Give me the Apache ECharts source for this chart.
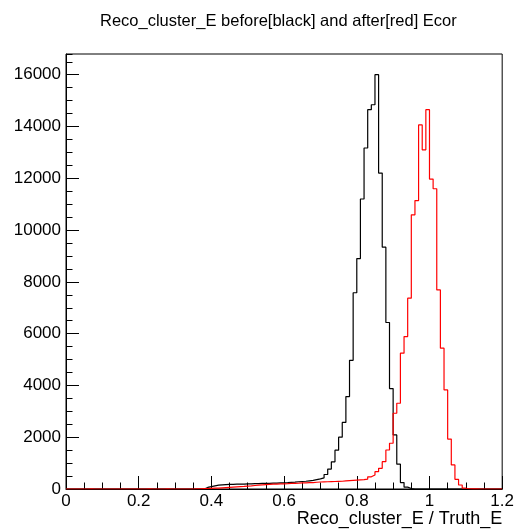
<!DOCTYPE html>
<html>
<head>
<meta charset="utf-8">
<title>Reco_cluster_E before and after Ecor</title>
<script src="https://cdn.jsdelivr.net/npm/echarts@6/dist/echarts.min.js"></script>
<style>
  html, body { margin: 0; padding: 0; background: #fff; }
  #chart { width: 517px; height: 530px; }
</style>
</head>
<body>
<div id="chart"></div>
<script>
// Histogram binning: 120 bins of width 0.01 over [0, 1.2]
const binStart = 0;
const binWidth = 0.01;
const nBins = 120;

// Counts per bin before the energy correction (black)
const beforeCounts = [
  0, 0, 0, 0, 0, 0, 0, 0, 0, 0,
  0, 0, 0, 0, 0, 0, 0, 0, 0, 0,
  0, 0, 0, 0, 0, 0, 0, 0, 0, 0,
  0, 0, 0, 0, 0, 0, 0, 0, 60, 90,
  120, 150, 160, 170, 175, 180, 185, 190, 190, 200,
  195, 205, 210, 215, 220, 220, 225, 230, 235, 240,
  245, 255, 265, 280, 290, 300, 315, 330, 360, 390,
  430, 560, 770, 1050, 1500, 2000, 2570, 3570, 4970, 7580,
  8900, 11200, 13170, 14650, 14840, 16000, 12200, 9340, 6430, 3880,
  2090, 960, 250, 70, 20, 0, 0, 0, 0, 0,
  0, 0, 0, 0, 0, 0, 0, 0, 0, 0,
  0, 0, 0, 0, 0, 0, 0, 0, 0, 0
];

// Counts per bin after the energy correction (red)
const afterCounts = [
  0, 0, 0, 0, 0, 0, 10, 0, 0, 0,
  0, 0, 0, 0, 0, 0, 0, 0, 0, 0,
  0, 0, 10, 0, 0, 0, 0, 10, 0, 0,
  0, 0, 0, 0, 0, 10, 10, 15, 20, 25,
  30, 35, 45, 55, 65, 75, 85, 95, 100, 110,
  120, 135, 150, 160, 170, 180, 185, 190, 195, 200,
  205, 215, 220, 225, 235, 240, 245, 250, 260, 270,
  275, 280, 285, 290, 295, 300, 310, 320, 330, 340,
  350, 360, 380, 470, 540, 670, 800, 1055, 1507, 1766,
  2926, 3312, 5245, 5886, 7370, 10590, 11140, 14060, 13100, 14650,
  11970, 11595, 7690, 5438, 3826, 1930, 928, 375, 155, 30,
  10, 5, 5, 0, 0, 0, 0, 0, 0, 0
];

// Axis tick labels
const xTickLabels = ['0', '0.2', '0.4', '0.6', '0.8', '1', '1.2'];
const yTickLabels = ['0', '2000', '4000', '6000', '8000', '10000', '12000', '14000', '16000'];

// Build step-line points at bin lower edges, closing at the last upper edge
function histPoints(counts) {
  const pts = counts.map((c, i) => [+(binStart + i * binWidth).toFixed(4), c]);
  pts.push([+(binStart + nBins * binWidth).toFixed(4), counts[counts.length - 1]]);
  return pts;
}

const FONT = 'Liberation Sans, Helvetica, Arial, sans-serif';
const chart = echarts.init(document.getElementById('chart'), null, { renderer: 'canvas' });

const xMax = 1.2, yMax = 16800;

chart.setOption({
  animation: false,
  backgroundColor: '#fff',
  title: {
    text: 'Reco_cluster_E before[black] and after[red] Ecor',
    left: 95,
    top: 8,
    textStyle: { fontFamily: FONT, fontSize: 16.5, fontWeight: 'normal', color: '#000' }
  },
  grid: {
    left: 66, right: 13, top: 54, bottom: 41,
    show: true, borderColor: '#000', borderWidth: 1, backgroundColor: 'transparent'
  },
  xAxis: [{
    type: 'value',
    min: 0, max: xMax, interval: 0.2,
    name: 'Reco_cluster_E / Truth_E',
    nameLocation: 'end',
    nameGap: 0,
    nameTextStyle: {
      fontFamily: FONT, fontSize: 18, color: '#000',
      align: 'right', verticalAlign: 'top', padding: [21, 0, 0, 0]
    },
    axisLine: { show: true, onZero: false, lineStyle: { color: '#000', width: 1 } },
    axisTick: { show: true, inside: true, length: 13, lineStyle: { color: '#000' } },
    minorTick: { show: true, splitNumber: 4, length: 6.5, lineStyle: { color: '#000' } },
    splitLine: { show: false },
    minorSplitLine: { show: false },
    axisLabel: {
      fontFamily: FONT, fontSize: 17, color: '#000', margin: 4,
      formatter: (v) => {
        const i = Math.round(v / 0.2);
        return Math.abs(v - i * 0.2) < 1e-6 ? xTickLabels[i] : '';
      }
    }
  }],
  yAxis: [{
    type: 'value',
    min: 0, max: yMax, interval: 2000,
    axisLine: { show: true, onZero: false, lineStyle: { color: '#000', width: 1 } },
    axisTick: { show: true, inside: true, length: 13, lineStyle: { color: '#000' } },
    splitLine: { show: false },
    axisLabel: {
      fontFamily: FONT, fontSize: 17, color: '#000', margin: 5,
      showMaxLabel: false,
      formatter: (v) => {
        const i = Math.round(v / 2000);
        return Math.abs(v - i * 2000) < 1e-6 && i < yTickLabels.length ? yTickLabels[i] : '';
      }
    }
  }, {
    // minor ticks every 500 counts
    type: 'value',
    position: 'left',
    min: 0, max: yMax, interval: 500,
    axisLine: { show: false },
    axisTick: { show: true, inside: true, length: 6.5, lineStyle: { color: '#000' } },
    splitLine: { show: false },
    axisLabel: { show: false }
  }],
  series: [{
    name: 'before',
    type: 'line',
    step: 'end',
    symbol: 'none',
    xAxisIndex: 0, yAxisIndex: 0,
    lineStyle: { color: '#000', width: 1.2 },
    data: histPoints(beforeCounts),
    z: 3
  }, {
    name: 'after',
    type: 'line',
    step: 'end',
    symbol: 'none',
    xAxisIndex: 0, yAxisIndex: 0,
    lineStyle: { color: '#ff0000', width: 1.2 },
    data: histPoints(afterCounts),
    z: 4
  }]
});
</script>
</body>
</html>
